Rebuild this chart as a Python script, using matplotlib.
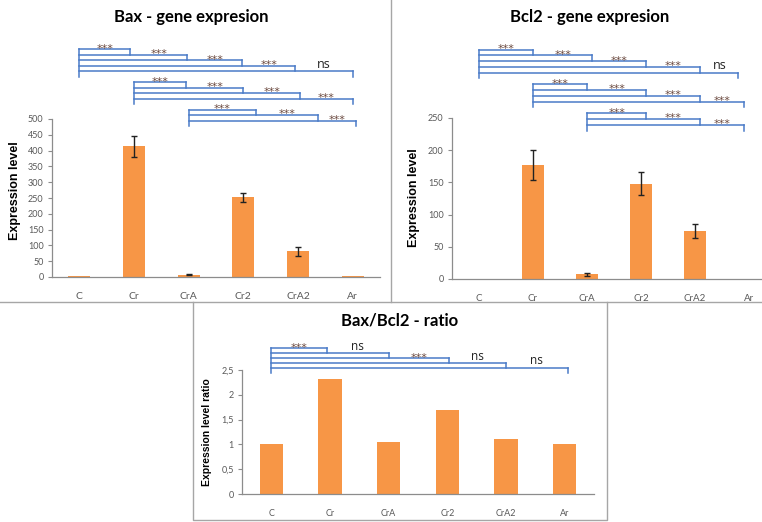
import matplotlib
matplotlib.use("Agg")
import matplotlib.pyplot as plt
from matplotlib.transforms import blended_transform_factory
from matplotlib.lines import Line2D

# ---------------- data ----------------
categories = ["C", "Cr", "CrA", "Cr2", "CrA2", "Ar"]

bax_values = [2, 413, 7, 252, 82, 2]
bax_errors = [0, 34, 1.5, 15, 14, 0]

bcl2_values = [0, 177, 7, 148, 74, 0]
bcl2_errors = [0, 23, 2, 18, 11, 0]

ratio_values = [1.0, 2.32, 1.05, 1.69, 1.11, 1.0]

bax_ticks = [0, 50, 100, 150, 200, 250, 300, 350, 400, 450, 500]
bcl2_ticks = [0, 50, 100, 150, 200, 250]
ratio_ticks = [0, 0.5, 1, 1.5, 2, 2.5]
ratio_tick_labels = ["0", "0,5", "1", "1,5", "2", "2,5"]

# comparisons: groups of (start, end, label)
bax_brackets = [
    [("C", "Cr", "***"), ("C", "CrA", "***"), ("C", "Cr2", "***"), ("C", "CrA2", "***"), ("C", "Ar", "ns")],
    [("Cr", "CrA", "***"), ("Cr", "Cr2", "***"), ("Cr", "CrA2", "***"), ("Cr", "Ar", "***")],
    [("CrA", "Cr2", "***"), ("CrA", "CrA2", "***"), ("CrA", "Ar", "***")],
]
bcl2_brackets = [
    [("C", "Cr", "***"), ("C", "CrA", "***"), ("C", "Cr2", "***"), ("C", "CrA2", "***"), ("C", "Ar", "ns")],
    [("Cr", "CrA", "***"), ("Cr", "Cr2", "***"), ("Cr", "CrA2", "***"), ("Cr", "Ar", "***")],
    [("CrA", "Cr2", "***"), ("CrA", "CrA2", "***"), ("CrA", "Ar", "***")],
]
ratio_brackets = [
    [("C", "Cr", "***"), ("C", "CrA", "ns"), ("C", "Cr2", "***"), ("C", "CrA2", "ns"), ("C", "Ar", "ns")],
]

# ---------------- style ----------------
W, H = 762, 522
BAR = "#F79646"
BLUE = "#4A7BC8"
STAR = "#6B4A40"
GRAY = "#595959"
AXIS = "#8C8C8C"
BORDER = "#A6A6A6"
TICKFONT = "Lato"

# small visual nudges of hand drawn bracket ends (category units)
bax_nudges = [[-0.07, -0.03, -0.02, -0.05, 0.0], [-0.04, 0.0, 0.04, 0.0], [0.24, 0.37, 0.06]]
bcl2_nudges = [[0.0, 0.1, 0.1, 0.1, -0.2], [0.0, 0.1, 0.1, -0.1], [0.1, 0.1, -0.1]]
ratio_nudges = [[-0.05, 0.0, 0.03, 0.0, 0.05]]

fig = plt.figure(figsize=(W / 100, H / 100), dpi=100)
fig.patch.set_facecolor("white")


def rect(x0, y_top, x1, y_bot):
    return [x0 / W, 1 - y_bot / H, (x1 - x0) / W, (y_bot - y_top) / H]


def fig_line(xs, ys):
    fig.add_artist(Line2D([x / W for x in xs], [1 - y / H for y in ys],
                          transform=fig.transFigure, color=BORDER, lw=1.0))


def make_panel(r, values, errors, ticks, ticklabels, ymax, ylabel, ylabel_size,
               xtick_size, ytick_size):
    ax = fig.add_axes(r)
    x = list(range(len(categories)))
    ax.bar(x, values, width=0.4, color=BAR, zorder=2)
    if errors is not None:
        ex = [i for i, e in zip(x, errors) if e > 0]
        ev = [values[i] for i in ex]
        ee = [errors[i] for i in ex]
        ax.errorbar(ex, ev, yerr=ee, fmt="none", ecolor="#222222",
                    elinewidth=1.0, capsize=2.5, capthick=1.0, zorder=3)
    ax.set_xlim(-0.5, len(categories) - 0.5)
    ax.set_ylim(0, ymax)
    ax.set_yticks(ticks)
    ax.set_yticklabels(ticklabels, fontsize=ytick_size, color=GRAY, family=TICKFONT)
    ax.set_xticks(x)
    ax.set_xticklabels(categories, fontsize=xtick_size, color=GRAY, family=TICKFONT)
    ax.tick_params(axis="x", length=0, pad=11)
    ax.tick_params(axis="y", length=3, width=0.8, color=AXIS, pad=3)
    for s in ["top", "right"]:
        ax.spines[s].set_visible(False)
    for s in ["left", "bottom"]:
        ax.spines[s].set_color(AXIS)
        ax.spines[s].set_linewidth(0.9)
    ax.set_ylabel(ylabel, fontsize=ylabel_size, fontweight="bold",
                  family="Liberation Sans", color="black")
    ax.patch.set_alpha(0)
    return ax


def draw_brackets(ax, groups, nudges, first_y, step, gap, ns_size=9):
    tr = blended_transform_factory(ax.transData, fig.transFigure)
    idx = {c: i for i, c in enumerate(categories)}
    y = first_y
    for g, group in enumerate(groups):
        start = idx[group[0][0]]
        top = y
        prev = start
        for k, (a, b, lab) in enumerate(group):
            end = idx[b] + nudges[g][k]
            ax.add_line(Line2D([start, end], [1 - y / H, 1 - y / H], transform=tr,
                               color=BLUE, lw=1.1, clip_on=False))
            ax.add_line(Line2D([end, end], [1 - y / H, 1 - (y + step) / H], transform=tr,
                               color=BLUE, lw=1.1, clip_on=False))
            xm = (prev + end) / 2
            if lab == "ns":
                ax.text(xm, 1 - (y - 3.5) / H, lab, transform=tr, ha="center",
                        va="baseline", fontsize=ns_size, color="#222222",
                        family="Open Sans", clip_on=False)
            else:
                ax.text(xm, 1 - (y + 2.5) / H, lab, transform=tr, ha="center",
                        va="baseline", fontsize=8, color=STAR, clip_on=False)
            prev = end
            last = y
            y += step
        ax.add_line(Line2D([start, start], [1 - top / H, 1 - (last + step) / H], transform=tr,
                           color=BLUE, lw=1.1, clip_on=False))
        y = last + gap


# ---------------- panels ----------------
ax1 = make_panel(rect(52, 119, 380, 277), bax_values, bax_errors, bax_ticks,
                 [str(t) for t in bax_ticks], 500, "Expression level", 9, 7.5, 6.5)
ax1.yaxis.set_label_coords(-0.093, 0.544)
draw_brackets(ax1, bax_brackets, bax_nudges, 49, 5.5, 11)

ax2 = make_panel(rect(452, 118, 776, 279), bcl2_values, bcl2_errors, bcl2_ticks,
                 [str(t) for t in bcl2_ticks], 250, "Expression level", 9, 7, 6.5)
ax2.yaxis.set_label_coords(-0.099, 0.503)
draw_brackets(ax2, bcl2_brackets, bcl2_nudges, 49.5, 5.8, 11.5)

ax3 = make_panel(rect(242, 370, 594, 494), ratio_values, None, ratio_ticks,
                 ratio_tick_labels, 2.5, "Expression level ratio", 7.5, 6.5, 6.5)
ax3.yaxis.set_label_coords(-0.085, 0.5)
draw_brackets(ax3, ratio_brackets, ratio_nudges, 348, 5.0, 11, ns_size=8.5)

# titles
fig.text(191 / W, 1 - 17 / H, "Bax - gene expresion", ha="center", va="center",
         fontsize=12, fontweight="bold", family="Lato")
fig.text(590 / W, 1 - 17 / H, "Bcl2 - gene expresion", ha="center", va="center",
         fontsize=12, fontweight="bold", family="Lato")
fig.text(400 / W, 1 - 321 / H, "Bax/Bcl2 - ratio", ha="center", va="center",
         fontsize=12, fontweight="bold", family="Lato")

# panel borders
fig_line([0, W], [302, 302])
fig_line([391, 391], [0, 302])
fig_line([193, 193, 607, 607], [302, 520, 520, 302])

fig.savefig("out.png", dpi=100, facecolor="white")
